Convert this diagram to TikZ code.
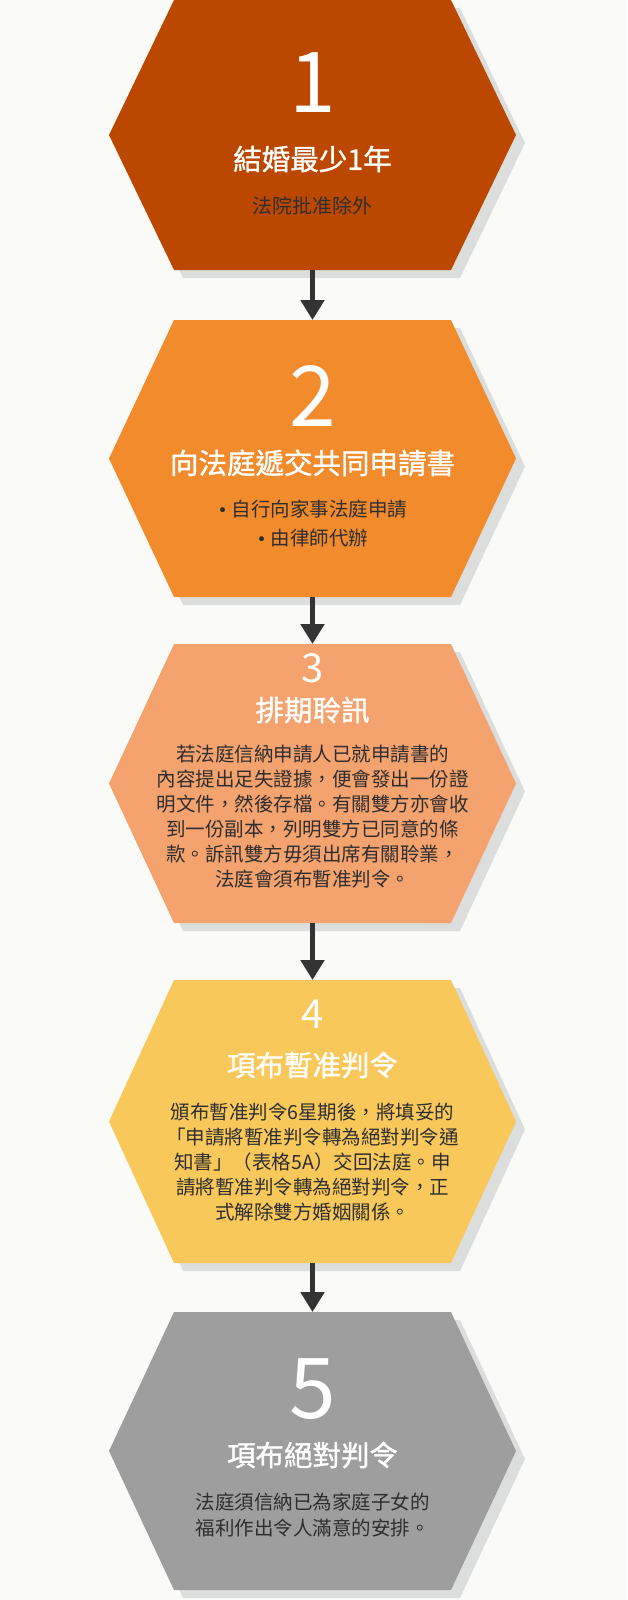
\documentclass[tikz,border=0pt]{standalone}
\usepackage{fontspec}
\setmainfont{Noto Sans CJK TC}
\newfontfamily\headfont[FakeBold=1.2]{Noto Sans CJK TC}
\newfontfamily\dotfont{DejaVu Sans}
\usetikzlibrary{calc,arrows.meta}
\definecolor{bgc}{HTML}{FAFAF9}
\definecolor{shc}{HTML}{DCDDDD}
\definecolor{c1}{HTML}{BC4800}
\definecolor{c2}{HTML}{F18B2B}
\definecolor{c3}{HTML}{F4A26E}
\definecolor{c4}{HTML}{F8C85A}
\definecolor{c5}{HTML}{9E9E9E}
\definecolor{ink}{HTML}{2E2E2E}
\definecolor{arrc}{HTML}{333333}
\newcommand\hexpath[3]{($(#1.west)+(#2,#3)$) -- ($(#1.north west)+(65+#2,#3)$) -- ($(#1.north east)+(-65+#2,#3)$) -- ($(#1.east)+(#2,#3)$) -- ($(#1.south east)+(-65+#2,#3)$) -- ($(#1.south west)+(65+#2,#3)$) -- cycle}
\newcommand\hexstep[4]{%
  \node[hexbox, minimum height={#3-#2}] (#1) at (312.5,{(#2+#3)/2}) {};
  \fill[shc] \hexpath{#1}{9}{8};
  \fill[#4] \hexpath{#1}{0}{0};
}
\newcommand\bul{{\dotfont\fontsize{17}{17}\selectfont •}\hspace{4pt}}
\begin{document}
\begin{tikzpicture}[x=1pt,y=-1pt,
  hexbox/.style={minimum width=407pt, inner sep=0pt, outer sep=0pt},
  num/.style={text=white, font=\fontsize{84}{84}\selectfont, inner sep=0pt},
  smallnum/.style={text=white, font=\fontsize{40}{40}\selectfont, inner sep=0pt},
  head/.style={text=white, font=\headfont\fontsize{28.5}{30}\selectfont, inner sep=0pt},
  body/.style={text=ink, font=\fontsize{19.5}{25}\selectfont, align=center, inner sep=0pt},
  arr/.style={draw=arrc, line width=5pt, -{Triangle[width=23pt,length=20pt]}}
]
\useasboundingbox (0,0) rectangle (627,1600);
\fill[bgc] (0,0) rectangle (627,1600);

\hexstep{h1}{0}{270}{c1}
\hexstep{h2}{320}{597}{c2}
\hexstep{h3}{644}{923}{c3}
\hexstep{h4}{980}{1263}{c4}
\hexstep{h5}{1312}{1590}{c5}

% step 1
\node[num] (n1) at (312.5,83) {1};
\node[head] (t1) at (312.5,159) {結婚最少1年};
\node[body, font=\fontsize{20}{25}\selectfont] (b1) at (312.5,206) {法院批准除外};

% step 2
\node[num] (n2) at (312.5,396) {2};
\node[head] (t2) at (312.5,463) {向法庭遞交共同申請書};
\node[body, font=\fontsize{19.5}{29}\selectfont] (b2) at (312.5,523.5) {\bul 自行向家事法庭申請\\\bul 由律師代辦};

% step 3
\node[smallnum] (n3) at (312.5,668) {3};
\node[head] (t3) at (312.5,710) {排期聆訊};
\node[body] (b3) at (312.5,816.5) {若法庭信納申請人已就申請書的\\內容提出足失證據，便會發出一份證\\明文件，然後存檔。有關雙方亦會收\\到一份副本，列明雙方已同意的條\\款。訴訊雙方毋須出席有關聆業，\\法庭會須布暫准判令。};

% step 4
\node[smallnum] (n4) at (312.5,1014) {4};
\node[head] (t4) at (312.5,1065) {項布暫准判令};
\node[body] (b4) at (312.5,1162.5) {頒布暫准判令6星期後，將填妥的\\「申請將暫准判令轉為絕對判令通\\知書」（表格5A）交回法庭。申\\請將暫准判令轉為絕對判令，正\\式解除雙方婚姻關係。};

% step 5
\node[num] (n5) at (312.5,1389) {5};
\node[head] (t5) at (312.5,1455) {項布絕對判令};
\node[body, font=\fontsize{19.5}{26}\selectfont] (b5) at (312.5,1515) {法庭須信納已為家庭子女的\\福利作出令人滿意的安排。};

% connectors
\draw[arr] (h1.south) -- (h2.north);
\draw[arr] (h2.south) -- (h3.north);
\draw[arr] (h3.south) -- (h4.north);
\draw[arr] (h4.south) -- (h5.north);
\end{tikzpicture}
\end{document}
